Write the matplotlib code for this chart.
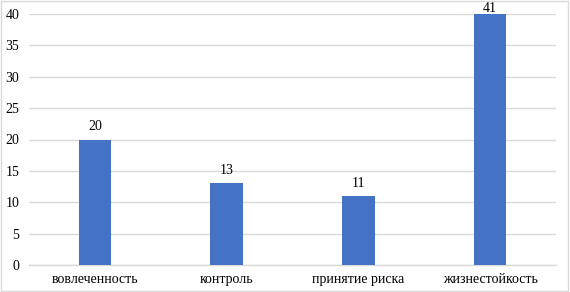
import matplotlib.pyplot as plt
from matplotlib.patches import Rectangle

categories = ['вовлеченность', 'контроль', 'принятие риска', 'жизнестойкость']
values = [20, 13, 11, 41]
y_ticks = [0, 5, 10, 15, 20, 25, 30, 35, 40]

BAR_COLOR = '#4472C4'
GRID_COLOR = '#d9d9d9'
Y_MAX = 40

plt.rcParams['font.family'] = ['Liberation Serif', 'DejaVu Serif']

fig = plt.figure(figsize=(5.70, 2.92), dpi=100)
ax = fig.add_axes([29 / 570, 1 - 265 / 292, 527 / 570, 251 / 292])

x = list(range(len(categories)))
ax.bar(x, values, width=0.245, color=BAR_COLOR, zorder=3)

# value labels, Excel keeps the clipped one inside the chart
for xi, v in zip(x, values):
    top = min(v, Y_MAX)
    off = 6.5 if v <= Y_MAX else 1.5
    ax.annotate(str(v), (xi, top), xytext=(0, off), textcoords='offset points',
                ha='center', va='baseline', fontsize=10, color='black',
                annotation_clip=False)

ax.set_xlim(-0.5, len(categories) - 0.5)
ax.set_ylim(0, Y_MAX)
ax.set_yticks(y_ticks)
ax.set_xticks(x)
ax.set_xticklabels(categories, fontsize=10)
ax.tick_params(axis='y', labelsize=10, length=0, pad=7)
ax.tick_params(axis='x', length=0, pad=6)

ax.grid(axis='y', color=GRID_COLOR, linewidth=1, zorder=0)
for s in ['top', 'right', 'left']:
    ax.spines[s].set_visible(False)
ax.spines['bottom'].set_color(GRID_COLOR)
ax.spines['bottom'].set_linewidth(1)

# light frame around the chart area
fig.patches.append(Rectangle((0.002, 0.002), 0.994, 0.994, transform=fig.transFigure,
                             fill=False, edgecolor=GRID_COLOR, linewidth=1))

fig.savefig('out.png', dpi=100)
